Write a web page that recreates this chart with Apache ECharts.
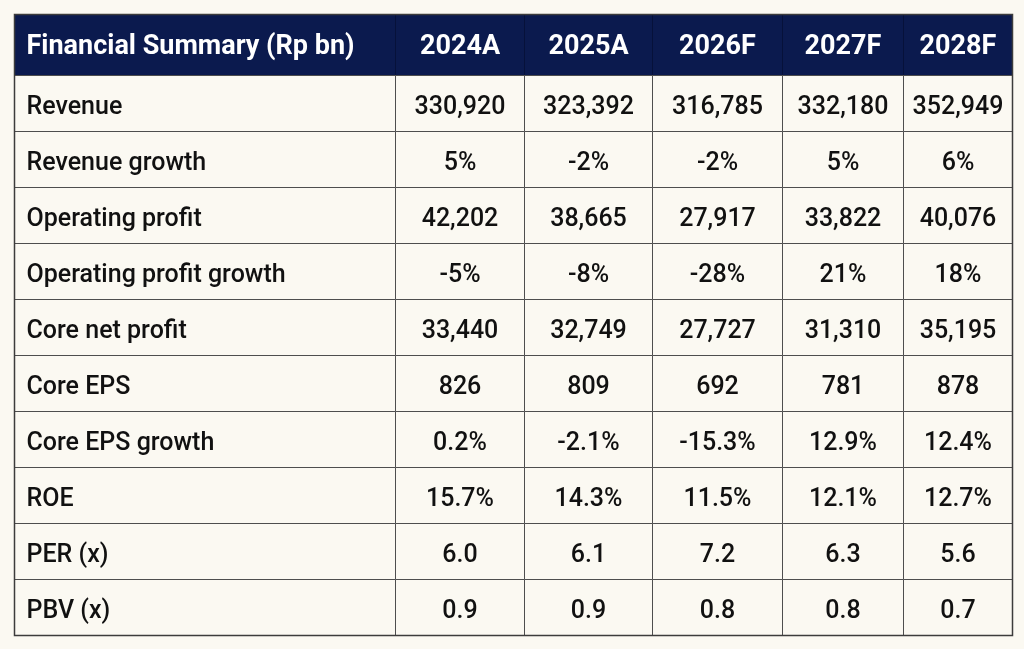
<!DOCTYPE html>
<html>
<head>
    <meta charset="utf-8">
    <script type="text/javascript" src="https://cdn.jsdelivr.net/npm/echarts@6/dist/echarts.min.js"></script>
    <style type="text/css">
        * {
            margin: 0;
            padding: 0;
        }
        body {
            background: #fbf9f2;
        }
        #container {
            width: 1024px;
            height: 649px;
        }
    </style>
</head>
<body>
<div id="container"></div>

<script type="text/javascript">

    //表头
    var title = 'Financial Summary (Rp bn)';
    var years = ['2024A', '2025A', '2026F', '2027F', '2028F'];
    //行名
    var metrics = ['Revenue', 'Revenue growth', 'Operating profit', 'Operating profit growth',
        'Core net profit', 'Core EPS', 'Core EPS growth', 'ROE', 'PER (x)', 'PBV (x)'];

    //各行数据
    var revenue = [330920, 323392, 316785, 332180, 352949];
    var revenueGrowth = [5, -2, -2, 5, 6];
    var operatingProfit = [42202, 38665, 27917, 33822, 40076];
    var operatingProfitGrowth = [-5, -8, -28, 21, 18];
    var coreNetProfit = [33440, 32749, 27727, 31310, 35195];
    var coreEps = [826, 809, 692, 781, 878];
    var coreEpsGrowth = [0.2, -2.1, -15.3, 12.9, 12.4];
    var roe = [15.7, 14.3, 11.5, 12.1, 12.7];
    var per = [6.0, 6.1, 7.2, 6.3, 5.6];
    var pbv = [0.9, 0.9, 0.8, 0.8, 0.7];

    //格式化方式
    function fmtInt(v) { return v.toLocaleString('en-US'); }
    function fmtPct0(v) { return v + '%'; }
    function fmtPct1(v) { return v.toFixed(1) + '%'; }
    function fmtDec1(v) { return v.toFixed(1); }

    var rows = [
        [revenue, fmtInt],
        [revenueGrowth, fmtPct0],
        [operatingProfit, fmtInt],
        [operatingProfitGrowth, fmtPct0],
        [coreNetProfit, fmtInt],
        [coreEps, fmtInt],
        [coreEpsGrowth, fmtPct1],
        [roe, fmtPct1],
        [per, fmtDec1],
        [pbv, fmtDec1]
    ];

    //版式：列宽、行高（坐标单位 = 像素）
    var colWidths = [381, 129, 128, 130, 121, 109];
    var headerHeight = 61;
    var rowHeight = 56;

    var colEdges = [0];
    for (var i = 0; i < colWidths.length; i++) {
        colEdges.push(colEdges[i] + colWidths[i]);
    }
    var rowEdges = [0, headerHeight];
    for (var j = 0; j < metrics.length; j++) {
        rowEdges.push(rowEdges[j + 1] + rowHeight);
    }
    var totalW = colEdges[colEdges.length - 1];
    var totalH = rowEdges[rowEdges.length - 1];

    //单元格数据 [列, 行, 文字]
    var cells = [];
    cells.push([0, 0, title]);
    for (var c = 0; c < years.length; c++) {
        cells.push([c + 1, 0, years[c]]);
    }
    for (var r = 0; r < metrics.length; r++) {
        cells.push([0, r + 1, metrics[r]]);
        for (var c2 = 0; c2 < years.length; c2++) {
            cells.push([c2 + 1, r + 1, rows[r][1](rows[r][0][c2])]);
        }
    }

    var navy = '#0b1a4e';
    var lineColor = '#4e4e4e';
    var fontFamily = 'Roboto, "Noto Sans", sans-serif';

    function renderCell(params, api) {
        var col = api.value(0);
        var row = api.value(1);
        var label = cells[params.dataIndex][2];
        var p0 = api.coord([colEdges[col], rowEdges[row]]);
        var p1 = api.coord([colEdges[col + 1], rowEdges[row + 1]]);
        var x = Math.round(p0[0]) + 0.5;
        var y = Math.round(p0[1]) + 0.5;
        var w = Math.round(p1[0]) - Math.round(p0[0]);
        var h = Math.round(p1[1]) - Math.round(p0[1]);
        var isHeader = row === 0;
        var leftCol = col === 0;
        return {
            type: 'group',
            children: [{
                type: 'rect',
                shape: {x: x, y: y, width: w, height: h},
                style: {
                    fill: isHeader ? navy : '#fbf9f2',
                    stroke: isHeader ? '#06113a' : lineColor,
                    lineWidth: 1
                }
            }, {
                type: 'text',
                x: leftCol ? x + 12 : x + w / 2,
                y: y + h / 2 + (isHeader ? 2 : 4),
                style: {
                    text: label,
                    fill: isHeader ? '#ffffff' : '#111111',
                    font: (isHeader ? 'bold 27px ' : '500 25px ') + fontFamily,
                    align: leftCol ? 'left' : 'center',
                    verticalAlign: 'middle'
                }
            }]
        };
    }

    var dom = document.getElementById('container');
    var myChart = echarts.init(dom, null, {renderer: 'canvas'});
    var option = {
        backgroundColor: '#fbf9f2',
        animation: false,
        grid: {
            left: 14,
            top: 14,
            width: totalW,
            height: totalH
        },
        xAxis: {
            type: 'value',
            min: 0,
            max: totalW,
            show: false
        },
        yAxis: {
            type: 'value',
            min: 0,
            max: totalH,
            inverse: true,
            show: false
        },
        series: [{
            type: 'custom',
            renderItem: renderCell,
            data: cells.map(function (d) { return [d[0], d[1]]; }),
            silent: true
        }, {
            //外框
            type: 'custom',
            renderItem: function (params, api) {
                var p0 = api.coord([0, 0]);
                var p1 = api.coord([totalW, totalH]);
                return {
                    type: 'rect',
                    shape: {x: p0[0] + 0.5, y: p0[1] + 0.5, width: p1[0] - p0[0], height: p1[1] - p0[1]},
                    style: {fill: 'none', stroke: '#3c3c3c', lineWidth: 1.5}
                };
            },
            data: [[0, 0]],
            silent: true
        }]
    };
    myChart.setOption(option, true);

</script>
</body>
</html>
